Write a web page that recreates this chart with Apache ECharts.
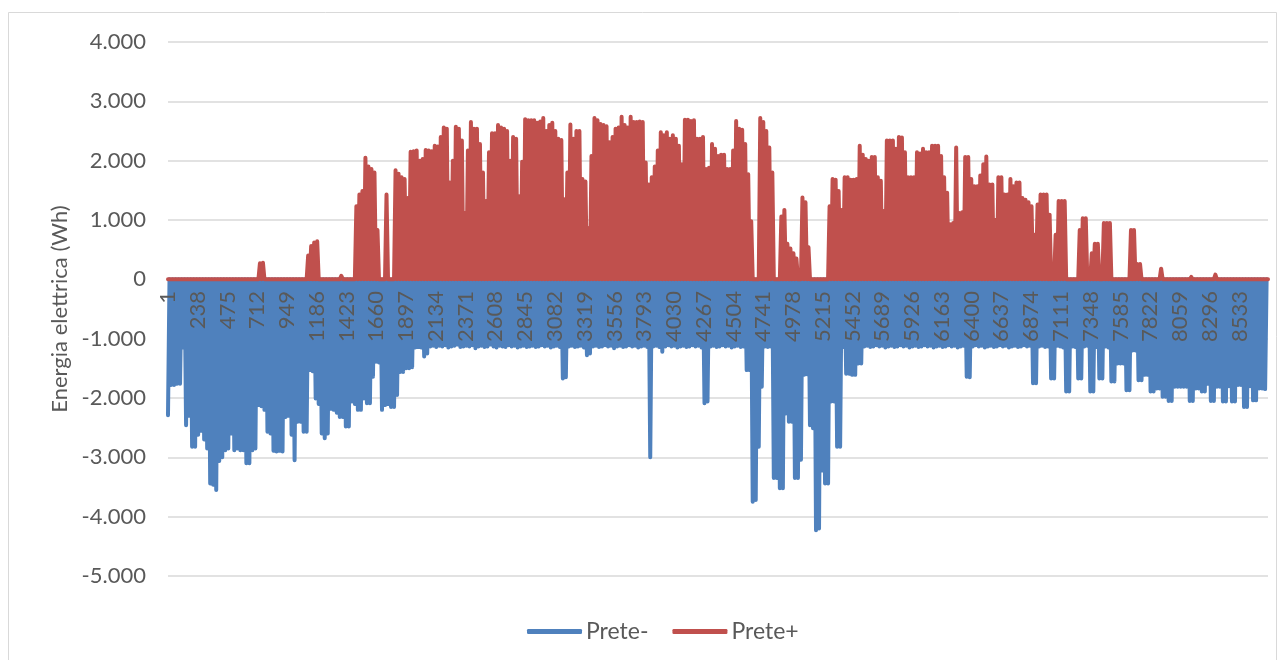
<!DOCTYPE html>
<html>
<head>
<meta charset="utf-8">
<script src="https://cdn.jsdelivr.net/npm/echarts@6/dist/echarts.min.js"></script>
<style>
  html, body { margin: 0; padding: 0; background: #fff; }
  #chart { width: 1284px; height: 660px; }
</style>
</head>
<body>
<div id="chart"></div>
<script>
// hourly series summarised as one peak (Prete+) and one trough (Prete-) per day
const pretePiu = [
  0,0,0,0,0,0,0,0,0,0, 0,0,0,0,0,0,0,0,0,0, 0,0,0,0,0,0,0,0,0,0,
  270,280,0,0,0,0,0,0,0,0, 0,0,0,0,0,0,400,560,620,640,
  0,0,0,0,0,0,0,60,0,0, 0,0,1230,1430,1490,2050,1900,1860,1800,830,
  0,0,1430,0,0,1840,1780,1720,1690,1370, 2150,2160,2170,2000,2030,2180,2170,2160,2250,2240,
  2400,2560,2540,1630,2000,2570,2540,2340,1120,2170, 2650,2540,2540,2280,1800,1320,2140,2460,2460,2600,
  2560,2540,2500,2000,2400,2370,1400,1980,2700,2680, 2680,2680,2640,2660,2720,2500,2600,2640,2500,2370,
  2350,1350,1800,2610,2370,2500,2500,1690,1650,860, 2080,2720,2680,2620,2600,2580,2310,2400,2540,2560,
  2740,2600,2560,2740,2650,2650,2660,2650,1970,1600, 1720,1900,2170,2480,2430,2480,2370,2430,2370,2250,
  1940,2690,2690,2670,2680,2370,2370,2400,1860,1880, 2280,2200,2080,2100,2100,1860,1860,2170,2670,2540,
  2520,2280,1770,980,0,0,2720,2650,2500,2220, 1800,0,0,1060,1170,600,520,440,350,0,
  1380,1300,540,0,0,0,0,0,0,1230, 1690,1680,1490,1170,1720,1720,1680,1680,1690,2250,
  2100,2030,2000,2060,2060,1720,1660,1150,2340,2340, 2340,2200,2400,2390,2140,1720,1720,1720,2140,2120,
  2200,2140,2140,2250,2250,2250,2080,1720,1460,930, 950,2220,1120,1130,2060,2060,1690,1570,1570,1750,
  1940,2070,1600,1600,1000,1720,1720,1430,1430,1690, 1570,1630,1630,1370,1340,1300,1230,750,1260,1430,
  1430,1430,1090,260,750,1320,1320,1320,0,0, 0,0,830,1030,1030,100,440,600,600,0,
  950,950,950,0,0,0,0,0,0,830, 830,260,260,0,0,0,0,0,0,180,
  0,0,0,0,0,0,20,0,0,40, 0,0,0,0,0,0,0,80,0,0,
  0,0,0,0,0,0,0,0,0,0, 0,0,0,0,0
];

const preteMeno = [
  -2290,-1780,-1780,-1760,-1760,-1150,-2460,-2300,-2820,-2820,
  -2620,-2550,-2700,-2850,-3440,-3460,-3550,-3060,-3000,-2880,
  -2850,-2600,-2880,-2850,-2880,-2880,-3100,-3100,-2880,-2850,
  -2120,-2140,-2200,-2570,-2600,-2890,-2900,-2890,-2900,-2320,
  -2300,-2620,-3050,-2400,-2400,-2570,-2570,-1530,-1550,-2010,
  -2100,-2600,-2680,-2600,-2180,-2200,-2250,-2320,-2320,-2480,
  -2480,-2060,-2100,-2200,-2200,-2010,-2090,-2090,-1640,-1390,
  -1400,-2200,-2120,-2100,-2150,-2150,-1950,-1560,-1560,-1500,
  -1500,-1480,-1150,-1140,-1150,-1300,-1250,-1130,-1120,-1140,
  -1120,-1130,-1110,-1150,-1130,-1120,-1100,-1140,-1130,-1120,
  -1130,-1110,-1160,-1130,-1120,-1140,-1130,-1100,-1130,-1150,
  -1120,-1130,-1140,-1110,-1130,-1120,-1150,-1130,-1120,-1140,
  -1130,-1120,-1140,-1130,-1110,-1130,-1120,-1150,-1130,-1120,
  -1140,-1670,-1650,-1130,-1120,-1140,-1130,-1120,-1150,-1280,
  -1250,-1130,-1120,-1140,-1130,-1110,-1130,-1120,-1160,-1130,
  -1120,-1140,-1130,-1110,-1130,-1120,-1150,-1130,-1120,-1140,
  -3000,-1130,-1120,-1140,-1220,-1130,-1110,-1130,-1120,-1150,
  -1130,-1120,-1140,-1130,-1110,-1130,-1120,-1150,-2090,-2060,
  -1130,-1120,-1140,-1130,-1110,-1130,-1120,-1150,-1130,-1120,
  -1140,-1130,-1530,-1530,-3750,-3720,-2820,-1810,-1130,-1140,
  -1130,-3350,-3350,-3520,-3520,-2260,-2400,-2400,-3350,-3350,
  -3040,-1610,-1600,-2460,-2510,-4230,-4200,-3220,-3440,-3440,
  -2060,-2060,-2820,-2820,-1140,-1590,-1590,-1610,-1610,-1420,
  -1420,-1130,-1120,-1140,-1130,-1110,-1130,-1120,-1150,-1130,
  -1120,-1140,-1130,-1110,-1130,-1120,-1150,-1130,-1120,-1140,
  -1130,-1110,-1130,-1120,-1150,-1130,-1120,-1140,-1130,-1110,
  -1130,-1120,-1150,-1130,-1120,-1640,-1650,-1130,-1110,-1130,
  -1120,-1150,-1130,-1120,-1140,-1130,-1110,-1130,-1120,-1150,
  -1130,-1120,-1140,-1130,-1110,-1130,-1120,-1750,-1750,-1130,
  -1120,-1140,-1130,-1670,-1670,-1120,-1130,-1150,-1890,-1890,
  -1130,-1140,-1670,-1670,-1130,-1120,-1890,-1890,-1140,-1670,
  -1670,-1130,-1150,-1720,-1720,-1420,-1420,-1420,-1870,-1870,
  -1200,-1200,-1700,-1700,-1610,-1610,-1890,-1890,-1840,-1840,
  -1980,-1980,-2050,-2050,-1810,-1810,-1810,-1810,-1810,-2050,
  -2050,-1840,-1840,-1890,-1890,-1760,-2050,-2050,-1810,-1810,
  -2060,-2060,-1800,-2060,-2060,-1780,-1780,-2150,-2150,-1800,
  -2040,-2040,-1840,-1840,-1850
];

const xTicks = [1,238,475,712,949,1186,1423,1660,1897,2134,2371,2608,2845,3082,3319,3556,3793,
  4030,4267,4504,4741,4978,5215,5452,5689,5926,6163,6400,6637,6874,7111,7348,7585,7822,8059,8296,8533];
const seriesNames = ['Prete-', 'Prete+'];

const HOURS = 8760;
const Y_MIN = -5000, Y_MAX = 4000;
const GRID = { left: 168, right: 16, top: 42, bottom: 84 };

// day d -> night hour (24d+1) and midday hour (24d+13)
function buildPos(arr) {
  const out = [];
  arr.forEach((v, d) => {
    out.push([24 * d + 1, 0]);
    out.push([24 * d + 13, v]);
  });
  out.push([HOURS, 0]);
  return out;
}
function buildNeg(arr) {
  const out = [];
  arr.forEach((v, d) => {
    out.push([24 * d + 1, v]);
    out.push([24 * d + 13, 0]);
  });
  return out;
}

function fmtIt(v) {
  const s = Math.abs(v).toString().replace(/\B(?=(\d{3})+(?!\d))/g, '.');
  return (v < 0 ? '-' : '') + s;
}

// the category axis sits on the zero line: shift it up from the grid bottom
const plotH = 660 - GRID.top - GRID.bottom;
const zeroShift = -Math.round(plotH * (0 - Y_MIN) / (Y_MAX - Y_MIN));

const FONT = 'Lato, "Noto Sans", sans-serif';
const chart = echarts.init(document.getElementById('chart'), null, { renderer: 'canvas' });

chart.setOption({
  animation: false,
  backgroundColor: '#fff',
  graphic: [{
    type: 'rect',
    shape: { x: 8.5, y: 12.5, width: 1268, height: 700 },
    style: { fill: 'none', stroke: '#d9d9d9', lineWidth: 1 },
    silent: true
  }],
  grid: GRID,
  legend: {
    data: seriesNames,
    top: 615,
    left: 522,
    icon: 'roundRect',
    itemWidth: 55,
    itemHeight: 5,
    itemGap: 24,
    textStyle: { color: '#595959', fontSize: 23, fontFamily: FONT, padding: [0, 0, 0, -1] }
  },
  xAxis: {
    type: 'value',
    min: 1,
    max: HOURS,
    interval: 237,
    position: 'bottom',
    offset: zeroShift,
    z: 10,
    axisLine: { show: false, onZero: false },
    axisTick: { show: false },
    splitLine: { show: false },
    axisLabel: {
      rotate: 90,
      margin: 12,
      color: '#595959',
      fontSize: 22,
      fontFamily: FONT,
      formatter: v => (xTicks.indexOf(v) >= 0 ? String(v) : '')
    }
  },
  yAxis: {
    type: 'value',
    min: Y_MIN,
    max: Y_MAX,
    interval: 1000,
    name: 'Energia elettrica (Wh)',
    nameLocation: 'middle',
    nameGap: 95,
    nameTextStyle: { color: '#595959', fontSize: 22, fontFamily: FONT },
    axisLine: { show: false, onZero: false },
    axisTick: { show: false },
    splitLine: { lineStyle: { color: '#d9d9d9', width: 1.5 } },
    axisLabel: {
      margin: 22,
      color: '#595959',
      fontSize: 22,
      fontFamily: FONT,
      formatter: fmtIt
    }
  },
  series: [
    {
      name: seriesNames[0],
      type: 'line',
      data: buildNeg(preteMeno),
      showSymbol: false,
      symbol: 'none',
      sampling: null,
      color: '#4f81bd',
      lineStyle: { color: '#4f81bd', width: 4, cap: 'round', join: 'round' },
      z: 2
    },
    {
      name: seriesNames[1],
      type: 'line',
      data: buildPos(pretePiu),
      showSymbol: false,
      symbol: 'none',
      sampling: null,
      color: '#c0504d',
      lineStyle: { color: '#c0504d', width: 4, cap: 'round', join: 'round' },
      z: 3
    }
  ]
});
</script>
</body>
</html>
